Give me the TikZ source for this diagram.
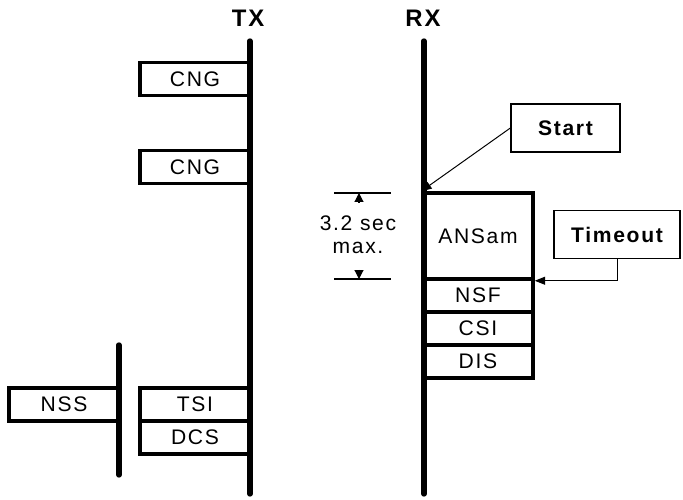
\documentclass[tikz,border=0pt]{standalone}
\usepackage{fontspec}
\setmainfont{Liberation Sans}
\newfontfamily\faxfont[LetterSpace=8]{Liberation Sans}
\usetikzlibrary{arrows.meta}

\begin{document}
\begin{tikzpicture}[x=0.25mm, y=-0.25mm,
  msg/.style={draw, line width=2.5pt, minimum width=27.5mm, minimum height=8.25mm, inner sep=0pt, font=\faxfont\fontsize{15}{18}\selectfont},
  note/.style={draw, line width=0.9pt, minimum height=12mm, inner sep=0pt, font=\faxfont\bfseries\fontsize{15}{18}\selectfont},
  station/.style={line width=3.8pt, line cap=round},
  pointer/.style={line width=0.7pt, -{Triangle[length=2.6mm,width=2mm]}}]
\useasboundingbox (0,0) rectangle (683,500);
% --- the two stations ---
\node[font=\faxfont\bfseries\fontsize{17}{20}\selectfont] (txlabel) at (248,18) {TX};
\node[font=\faxfont\bfseries\fontsize{17}{20}\selectfont] (rxlabel) at (423,18) {RX};
\coordinate (txtop) at (250,41);
\coordinate (txbot) at (250,494);
\coordinate (rxtop) at (424,41);
\coordinate (rxbot) at (424,494);
\coordinate (peertop) at (119,345);
\coordinate (peerbot) at (119,475);
\draw[station] (txtop) -- (txbot);
\draw[station] (rxtop) -- (rxbot);
\draw[station] (peertop) -- (peerbot);
% --- TX side frames ---
\node[msg] (cng1) at (195,79) {CNG};
\node[msg] (cng2) at (195,167) {CNG};
\node[msg] (tsi) at (195,404.5) {TSI};
\node[msg] (dcs) at (195,437.5) {DCS};
\node[msg] (nss) at (64,404.5) {NSS};
% --- RX side frames ---
\node[msg, minimum height=21.5mm] (ansam) at (478,236) {ANSam};
\node[msg] (nsf) at (478,295.5) {NSF};
\node[msg] (csi) at (478,328.5) {CSI};
\node[msg] (dis) at (478,361.5) {DIS};
% --- notes ---
\node[note, minimum width=27.25mm] (start) at (565.5,128) {Start};
\node[note, minimum width=31.5mm] (timeout) at (617,234.5) {Timeout};
\draw[pointer] (start.west) -- (ansam.north west);
\draw[pointer] (timeout.south) |- (ansam.south east);
% --- duration of ANSam ---
\coordinate (dimtopl) at (334,193);
\coordinate (dimtopr) at (391,193);
\coordinate (dimbotl) at (334,279);
\coordinate (dimbotr) at (391,279);
\draw[line width=1pt] (dimtopl) -- (dimtopr);
\draw[line width=1pt] (dimbotl) -- (dimbotr);
\coordinate (dimup) at (359,193);
\coordinate (dimdown) at (359,279);
\draw[line width=0.8pt, -{Triangle[length=2.2mm,width=2.2mm]}] (359,202) -- (dimup);
\draw[line width=0.8pt, -{Triangle[length=2.2mm,width=2.2mm]}] (359,270) -- (dimdown);
\node[font=\faxfont\fontsize{15}{18}\selectfont] (dimtext) at (358,223) {3.2 sec};
\node[font=\faxfont\fontsize{15}{18}\selectfont] (dimmax) at (358,248) {max.};
\end{tikzpicture}
\end{document}
